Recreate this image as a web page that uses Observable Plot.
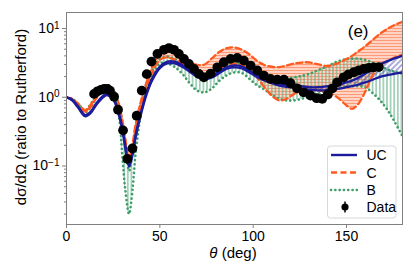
<!DOCTYPE html>
<html><head><meta charset="utf-8">
<script src="https://cdn.jsdelivr.net/npm/d3@7"></script>
<script src="https://cdn.jsdelivr.net/npm/@observablehq/plot@0.6"></script>
<style>body{margin:0;background:#fff}</style>
</head><body>
<svg width="0" height="0" style="position:absolute">
  <defs>
    <pattern id="hatchC" patternUnits="userSpaceOnUse" width="6" height="3">
      <rect width="6" height="3" fill="#ffe3d8"/>
      <line x1="0" y1="1.5" x2="6" y2="1.5" stroke="#ff9a78" stroke-width="1.4"/>
    </pattern>
    <pattern id="hatchB" patternUnits="userSpaceOnUse" width="3.6" height="6">
      <line x1="1.8" y1="0" x2="1.8" y2="6" stroke="#5aab80" stroke-width="1"/>
    </pattern>
    <pattern id="hatchUC" patternUnits="userSpaceOnUse" width="4" height="4" patternTransform="rotate(-45)">
      <line x1="0" y1="2" x2="4" y2="2" stroke="#3030a8" stroke-width="0.8"/>
    </pattern>
  </defs>
</svg>
<div id="chart"></div>
<script>
// ---- data ----
const modelTheta = [0,3,6,10,13,16,20,22,25,28,30,31.5,33.5,35.5,37,40,43,46,50,54,58,62,66,70,74,78,82,86,90,94,98,102,106,110,114,118,122,126,130,135,140,145,150,153,156,160,164,168,172,176,180];
const ucHi = [1.0,0.93,0.75,0.55,0.62,0.82,1.07,1.12,0.98,0.6,0.35,0.2,0.105,0.16,0.28,0.62,1.2,1.9,2.8,3.3,3.3,2.95,2.5,2.1,1.95,2.05,2.4,2.75,2.9,2.8,2.45,2.1,1.85,1.7,1.58,1.52,1.48,1.45,1.4,1.4,1.45,1.5,1.65,1.75,1.9,2.2,2.6,3.0,3.35,3.7,4.0];
const ucLo = [1.0,0.9,0.72,0.53,0.59,0.78,1.02,1.07,0.93,0.56,0.32,0.18,0.098,0.15,0.26,0.58,1.12,1.78,2.65,3.1,3.1,2.78,2.35,1.98,1.84,1.94,2.26,2.6,2.72,2.63,2.3,1.98,1.75,1.6,1.48,1.42,1.37,1.33,1.28,1.26,1.27,1.32,1.4,1.45,1.52,1.65,1.8,1.98,2.1,2.2,2.3];
const cHi = [1.0,0.95,0.82,0.65,0.78,1.05,1.38,1.45,1.28,0.8,0.45,0.25,0.13,0.22,0.4,0.9,1.7,2.8,4.3,5.2,4.8,4.0,3.3,2.95,3.0,3.7,4.6,5.2,5.3,4.9,4.2,3.4,2.95,2.78,2.75,2.9,3.1,3.2,3.22,3.0,2.85,3.1,3.6,4.0,4.6,5.5,6.8,8.4,9.9,11.3,12.5];
const cLo = [1.0,0.92,0.78,0.62,0.72,0.98,1.3,1.36,1.18,0.72,0.4,0.22,0.11,0.18,0.33,0.75,1.45,2.3,3.5,3.8,3.5,3.1,2.7,2.35,2.2,2.3,2.65,2.95,3.06,2.95,2.45,1.95,1.4,1.05,0.9,0.95,1.12,1.22,1.25,1.25,1.18,1.0,0.76,0.68,0.78,1.2,2.1,2.9,3.4,3.8,4.2];
const bHi = [1.0,0.95,0.82,0.64,0.8,1.08,1.45,1.52,1.3,0.78,0.42,0.2,0.085,0.17,0.35,0.85,1.6,2.5,3.6,3.9,3.6,3.1,2.7,2.35,2.2,2.35,2.7,3.0,3.2,3.0,2.5,2.2,2.07,1.95,1.88,1.88,1.95,2.05,2.2,2.5,2.85,3.3,3.6,3.65,3.65,3.5,3.2,2.85,2.55,2.35,2.2];
const bLo = [1.0,0.92,0.78,0.6,0.72,0.98,1.35,1.42,1.15,0.55,0.13,0.045,0.02,0.05,0.15,0.6,1.3,2.1,3.1,3.1,2.75,2.2,1.6,1.25,1.18,1.35,1.75,2.1,2.3,2.25,1.85,1.5,1.3,1.08,0.95,0.9,0.9,0.95,1.02,1.12,1.25,1.35,1.42,1.45,1.45,1.4,1.15,0.9,0.65,0.43,0.27];
const dataTheta = [14.8,16.6,18.4,20.1,21.9,23.3,25.5,27.6,30.3,32.6,35.3,37.6,40.3,43.0,45.5,48.7,52.2,54.9,57.6,60.2,62.9,65.6,68.3,70.9,73.6,77.2,80.8,84.3,87.9,91.5,95.0,98.6,102.2,105.7,109.3,112.9,116.5,120,123.5,127,130.7,134,137,140,142.5,145,148.5,151,153.9,156.5,159.2,162,164.6,167.3];
const dataValue = [1.12,1.22,1.28,1.32,1.32,1.25,1.02,0.66,0.33,0.127,0.18,0.54,1.25,2.17,3.3,4.28,4.9,5.2,4.9,4.28,3.62,3.06,2.59,2.19,1.95,2.21,2.73,3.23,3.62,3.74,3.42,2.89,2.45,2.07,1.85,1.8,1.8,1.6,1.35,1.18,1.06,0.97,0.95,1.1,1.35,1.65,1.95,2.15,2.31,2.45,2.59,2.68,2.73,2.75];
const xTicks = [0,50,100,150];
const yMajor = [0.1,1,10];
const yMajorLabels = ["10|−1","10|0","10|1"];
const yMinor = [0.02,0.03,0.04,0.05,0.06,0.07,0.08,0.09,0.2,0.3,0.4,0.5,0.6,0.7,0.8,0.9,2,3,4,5,6,7,8,9];
const seriesNames = ["UC","C","B","Data"];

const models = modelTheta.map((t,i)=>({theta:t, ucHi:ucHi[i], ucLo:ucLo[i], cHi:cHi[i], cLo:cLo[i], bHi:bHi[i], bLo:bLo[i]}));
const data = dataTheta.map((t,i)=>({theta:t, v:dataValue[i]}));

const BLUE = "#1b1b9c", ORANGE = "#ff5a1f", GREEN = "#3e9d68";
const curve = "catmull-rom";
const font = "'Liberation Sans', Arial, sans-serif";

const chart = Plot.plot({
  width: 415, height: 277,
  marginLeft: 66, marginRight: 13, marginTop: 12, marginBottom: 53,
  style: {fontFamily: font, fontSize: "14px", background: "white", color: "black"},
  x: {domain: [0, 180]},
  y: {type: "log", domain: [0.0141, 17.1]},
  marks: [
    Plot.areaY(models, {x: "theta", y1: "cLo", y2: "cHi", fill: "url(#hatchC)", curve, clip: true}),
    Plot.areaY(models, {x: "theta", y1: "bLo", y2: "bHi", fill: "url(#hatchB)", curve, clip: true}),
    Plot.areaY(models, {x: "theta", y1: "ucLo", y2: "ucHi", fill: "url(#hatchUC)", curve, clip: true}),
    Plot.lineY(models, {x: "theta", y: "bHi", stroke: GREEN, strokeWidth: 2.6, strokeDasharray: "0.1 4.2", strokeLinecap: "round", curve, clip: true}),
    Plot.lineY(models, {x: "theta", y: "bLo", stroke: GREEN, strokeWidth: 2.6, strokeDasharray: "0.1 4.2", strokeLinecap: "round", curve, clip: true}),
    Plot.lineY(models, {x: "theta", y: "cHi", stroke: ORANGE, strokeWidth: 2.3, strokeDasharray: "6 3.5", curve, clip: true}),
    Plot.lineY(models, {x: "theta", y: "cLo", stroke: ORANGE, strokeWidth: 2.3, strokeDasharray: "6 3.5", curve, clip: true}),
    Plot.lineY(models, {x: "theta", y: "ucHi", stroke: BLUE, strokeWidth: 2.3, curve, clip: true}),
    Plot.lineY(models, {x: "theta", y: "ucLo", stroke: BLUE, strokeWidth: 2.3, curve, clip: true}),
    Plot.dot(data, {x: "theta", y: "v", r: 4.9, fill: "black"}),
    Plot.frame({stroke: "#808080", strokeWidth: 1}),
    Plot.axisX({ticks: xTicks, tickSize: 4, tickPadding: 3, label: null, stroke: "#808080"}),
    Plot.axisY({ticks: yMinor, tickSize: 2, tickFormat: () => "", label: null, stroke: "#808080"}),
    Plot.axisY({ticks: yMajor, tickSize: 4, tickPadding: 3, label: null, stroke: "#808080",
      tickFormat: (d) => yMajorLabels[yMajor.indexOf(d)]}),
    Plot.text(["(e)"], {frameAnchor: "top-right", dx: -34, dy: 12, fontSize: 17, fill: "black"})
  ]
});

const svg = d3.select(chart);
svg.selectAll('g[aria-label="y-axis tick label"] text').each(function(){
  const s = this.textContent;
  if (!s.includes("|")) return;
  const [b, e] = s.split("|");
  const t = d3.select(this);
  t.text(null);
  t.append("tspan").text(b);
  t.append("tspan").attr("dy", "-0.45em").attr("font-size", "10px").text(e);
});

// axis labels
svg.append("text").attr("x", 233).attr("y", 258).attr("text-anchor", "middle")
  .attr("font-family", font).attr("font-size", 15)
  .call(t => { t.append("tspan").attr("font-style", "italic").text("θ"); t.append("tspan").text(" (deg)"); });
svg.append("text").attr("transform", "translate(26,117) rotate(-90)").attr("text-anchor", "middle")
  .attr("font-family", font).attr("font-size", 15).text("dσ/dΩ (ratio to Rutherford)");

// legend
const lg = svg.append("g").attr("font-family", font).attr("font-size", 14).attr("text-anchor", "start");
lg.append("rect").attr("x", 327.5).attr("y", 146).attr("width", 68.5).attr("height", 72).attr("rx", 3)
  .attr("fill", "white").attr("fill-opacity", 0.85).attr("stroke", "#d8d8d8");
const rows = [155, 172.5, 190, 207];
const styles = [
  {stroke: BLUE, w: 2.4, dash: null, cap: "butt"},
  {stroke: ORANGE, w: 2.4, dash: "6 3.5", cap: "butt"},
  {stroke: GREEN, w: 2.6, dash: "0.1 4.2", cap: "round"}
];
styles.forEach((s, i) => {
  const l = lg.append("line").attr("x1", 331).attr("x2", 357).attr("y1", rows[i]).attr("y2", rows[i])
    .attr("stroke", s.stroke).attr("stroke-width", s.w).attr("stroke-linecap", s.cap);
  if (s.dash) l.attr("stroke-dasharray", s.dash);
});
lg.append("line").attr("x1", 345).attr("x2", 345).attr("y1", rows[3] - 5.5).attr("y2", rows[3] + 5.5).attr("stroke", "black").attr("stroke-width", 1.5);
lg.append("circle").attr("cx", 345).attr("cy", rows[3]).attr("r", 3.6).attr("fill", "black");
seriesNames.forEach((n, i) => {
  lg.append("text").attr("x", 366.5).attr("y", rows[i]).attr("dy", "0.36em").attr("text-anchor", "start").text(n);
});

document.getElementById("chart").appendChild(chart);
</script>
</body></html>
